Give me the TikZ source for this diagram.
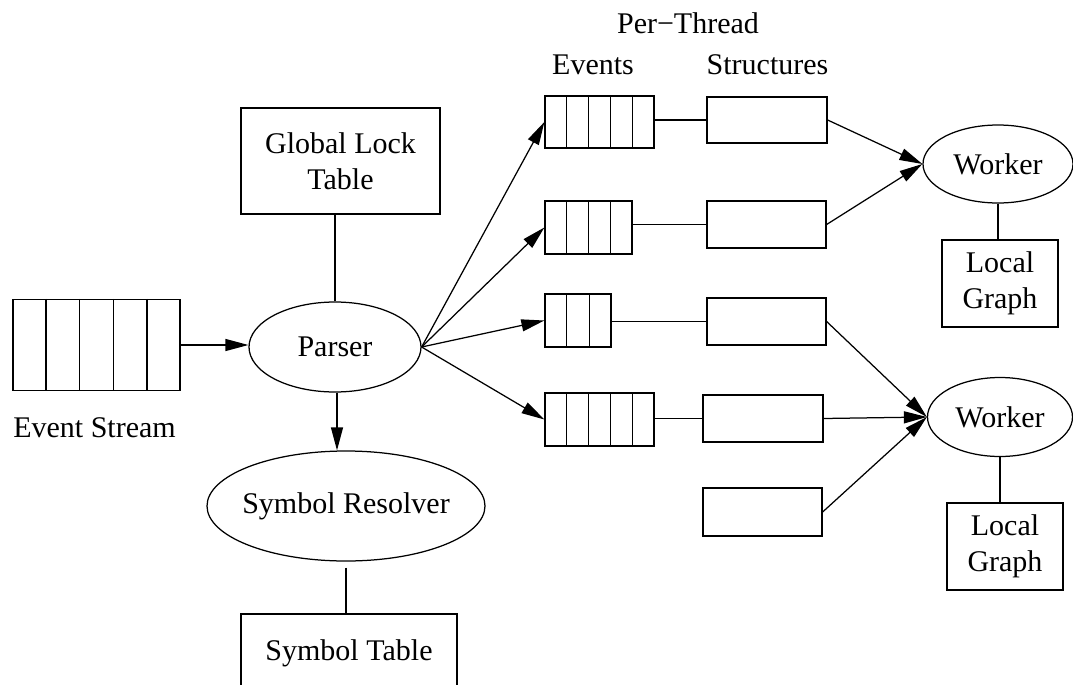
\documentclass[tikz,border=0pt]{standalone}
\usepackage{fontspec}
\setmainfont{Liberation Serif}
\usetikzlibrary{shapes.geometric,arrows.meta,calc}

\tikzset{
  every node/.style={font=\fontsize{30}{36}\selectfont},
  box/.style={draw, rectangle, inner sep=0pt, line width=1.25pt},
  oval/.style={draw, ellipse, inner sep=0pt, line width=1.25pt},
  queuebox/.style={draw, rectangle, inner sep=0pt, line width=1.25pt},
  link/.style={line width=1.25pt},
  flow/.style={line width=1.25pt, -{Triangle[length=23pt,width=12pt]}},
  caption/.style={inner sep=0pt}
}

% vertical dividers of a queue node: #2 dividers, #2+1 cells
\newcommand{\queuecells}[2]{%
  \foreach \k in {1,...,#2}{%
    \pgfmathsetmacro{\f}{\k/(#2+1)}
    \draw[link] ($(#1.north west)!\f!(#1.north east)$) -- ($(#1.south west)!\f!(#1.south east)$);
  }%
}

\begin{document}
\begin{tikzpicture}[x=1pt, y=-1pt]
\useasboundingbox (0,0) rectangle (1073,685);

% input side
\node[queuebox, minimum width=167pt, minimum height=91pt] (es) at (96.5,345) {};
\queuecells{es}{4}
\node[caption] (esl) at (94.5,428) {Event Stream};

\node[oval, minimum width=172pt, minimum height=90pt] (parser) at (335,347) {Parser};
\node[box, minimum width=199pt, minimum height=106pt, align=center] (glt) at (340.5,161) {Global Lock\\Table};
\node[oval, minimum width=278pt, minimum height=110pt] (sr) at (346,506) {\makebox[0pt]{Symbol Resolver}};
\node[box, minimum width=216pt, minimum height=78pt] (st) at (349,653) {Symbol Table};

% per-thread event queues
\node[queuebox, minimum width=109pt, minimum height=52pt] (q1) at (599.5,122) {};
\queuecells{q1}{4}
\node[queuebox, minimum width=87pt, minimum height=53pt] (q2) at (588.5,227.5) {};
\queuecells{q2}{3}
\node[queuebox, minimum width=66pt, minimum height=53pt] (q3) at (578,320.5) {};
\queuecells{q3}{2}
\node[queuebox, minimum width=109pt, minimum height=53pt] (q4) at (599.5,419.5) {};
\queuecells{q4}{4}

% per-thread structures
\node[box, minimum width=120pt, minimum height=46pt] (s1) at (767,120) {};
\node[box, minimum width=119pt, minimum height=47pt] (s2) at (766.5,224.5) {};
\node[box, minimum width=119pt, minimum height=47pt] (s3) at (766.5,321.5) {};
\node[box, minimum width=120pt, minimum height=47pt] (s4) at (763,418.5) {};
\node[box, minimum width=119pt, minimum height=48pt] (s5) at (762.5,512) {};

% column headings
\node[caption] (pt) at (688,23) {Per−Thread};
\node[caption] (ev) at (593,65) {Events};
\node[caption] (stc) at (767.5,65) {Structures};

% workers and their local graphs
\node[oval, minimum width=150pt, minimum height=78pt] (w1) at (998,164) {Worker};
\node[box, minimum width=116pt, minimum height=87pt, align=center] (lg1) at (1000,283.5) {Local\\Graph};
\node[oval, minimum width=145pt, minimum height=79pt] (w2) at (1000,417) {Worker};
\node[box, minimum width=116pt, minimum height=87pt, align=center] (lg2) at (1005,546.5) {Local\\Graph};

% connectors
\draw[flow] (es.east) -- (es.east -| parser.west);
\draw[link] (parser.north) -- (parser.north |- glt.south);
\draw[flow] ([xshift=2pt]parser.south) -- ([xshift=2pt]parser.south |- sr.north);
\draw[link, shorten <=6pt] (sr.south) -- (sr.south |- st.north);

\draw[flow] (parser.east) -- (q1.west);
\draw[flow] (parser.east) -- (q2.west);
\draw[flow] (parser.east) -- (q3.west);
\draw[flow] (parser.east) -- (q4.west);

\draw[link] (s1.west -| q1.east) -- (s1.west);
\draw[link] (s2.west -| q2.east) -- (s2.west);
\draw[link] (s3.west -| q3.east) -- (s3.west);
\draw[link] (s4.west -| q4.east) -- (s4.west);

\draw[flow] (s1.east) -- (w1.west);
\draw[flow] (s2.east) -- (w1.west);
\draw[flow] (s3.east) -- (w2.west);
\draw[flow] (s4.east) -- (w2.west);
\draw[flow] (s5.east) -- (w2.west);

\draw[link] (w1.south) -- (w1.south |- lg1.north);
\draw[link] (w2.south) -- (w2.south |- lg2.north);
\end{tikzpicture}
\end{document}
